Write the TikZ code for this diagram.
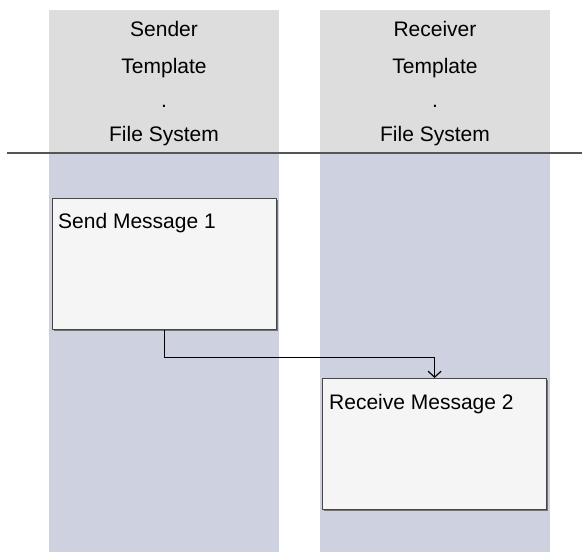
\documentclass[tikz,border=0pt]{standalone}
\usepackage{fontspec}
\setmainfont{Liberation Sans}
\usetikzlibrary{arrows.meta}
\definecolor{hdrgray}{RGB}{221,221,221}
\definecolor{lanebody}{RGB}{205,209,224}
\definecolor{boxfill}{RGB}{245,245,245}
\definecolor{boxline}{RGB}{70,70,70}
\definecolor{sepline}{RGB}{85,85,85}
\tikzset{
  txt/.style={font=\fontsize{21}{25}\selectfont, inner sep=0pt, text=black},
  hdr/.style={txt, anchor=base},
  msgbox/.style={draw=boxline, line width=1.2pt, fill=boxfill, minimum width=224pt, minimum height=131pt, anchor=north west, inner sep=0pt},
  conn/.style={draw=black, line width=1.4pt, -{Straight Barb[length=6pt,width=13pt,line width=1.2pt]}},
}
\begin{document}
\begin{tikzpicture}[x=1pt,y=-1pt]
\useasboundingbox (0,0) rectangle (582,554);
\fill[white] (0,0) rectangle (582,554);
% lanes
\fill[hdrgray] (49,10) rectangle (279,153);
\fill[hdrgray] (320,10) rectangle (550,153);
\fill[lanebody] (49,153) rectangle (279,552);
\fill[lanebody] (320,153) rectangle (550,552);
% header texts
\node[hdr] (s1) at (164,37) {Sender};
\node[hdr] (s2) at (164,73) {Template};
\node[hdr] (s3) at (164,107) {.};
\node[hdr] (s4) at (164,141) {File System};
\node[hdr] (r1) at (435,37) {Receiver};
\node[hdr] (r2) at (435,73) {Template};
\node[hdr] (r3) at (435,107) {.};
\node[hdr] (r4) at (435,141) {File System};
% separator
\draw[sepline, line width=2pt] (7,153) -- (582,153);
% boxes
\fill[black!55] (54,200) rectangle (278,331);
\node[msgbox] (b1) at (52,198) {};
\node[txt, anchor=base west] (t1) at (58,228) {Send Message 1};
\fill[black!55] (324,380) rectangle (548,511);
\node[msgbox] (b2) at (322,378) {};
\node[txt, anchor=base west] (t2) at (329,409) {Receive Message 2};
% connector
\draw[conn] (b1.south) -- ++(0,27) -| (b2.north);
\end{tikzpicture}
\end{document}
